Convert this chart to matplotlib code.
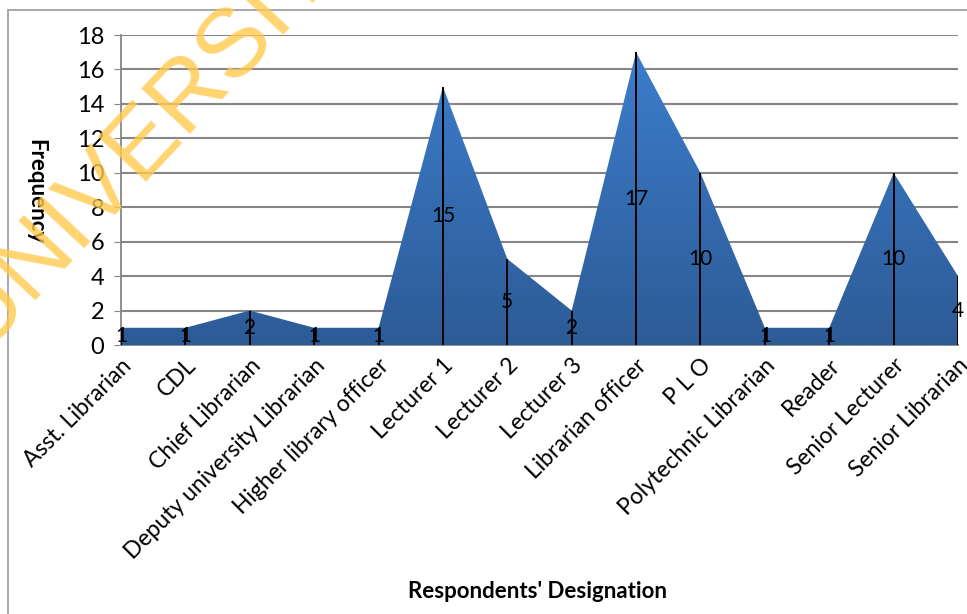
import matplotlib.pyplot as plt
import numpy as np
from matplotlib.patches import Rectangle
from matplotlib.colors import LinearSegmentedColormap

designations = ['Asst. Librarian', 'CDL', 'Chief Librarian', 'Deputy university Librarian',
                'Higher library officer', 'Lecturer 1', 'Lecturer 2', 'Lecturer 3',
                'Librarian officer', 'P L O', 'Polytechnic Librarian', 'Reader',
                'Senior Lecturer', 'Senior Librarian']
frequency = [1, 1, 2, 1, 1, 15, 5, 2, 17, 10, 1, 1, 10, 4]
y_ticks = [0, 2, 4, 6, 8, 10, 12, 14, 16, 18]

plt.rcParams['font.family'] = ['Lato', 'DejaVu Sans']

W, H = 967, 614
fig = plt.figure(figsize=(W / 100, H / 100), dpi=100)
ax = fig.add_axes([121 / W, 1 - 345 / H, (958 - 121) / W, (345 - 35) / H])

x = np.arange(len(designations))
ax.set_xlim(0, len(designations) - 1)
ax.set_ylim(0, 18)

# area with vertical gradient fill (darker at the bottom)
poly = ax.fill_between(x, frequency, 0, color='none', lw=0, zorder=2)
grad = np.linspace(0, 1, 256).reshape(-1, 1)
cmap = LinearSegmentedColormap.from_list('blu', ['#2D5B96', '#3D7FCF'])
img = ax.imshow(grad, cmap=cmap, aspect='auto', extent=[0, len(designations) - 1, 0, 18],
                origin='lower', zorder=2)
img.set_clip_path(poly.get_paths()[0], transform=ax.transData)

# drop lines and value labels
ax.vlines(x, 0, frequency, color='black', lw=1.4, zorder=3)
for xi, v in zip(x, frequency):
    ax.text(xi, v / 2, str(v), ha='center', va='center', fontsize=15, zorder=4, clip_on=False)

ax.set_yticks(y_ticks)
ax.set_xticks(x)
ax.set_xticklabels(designations, rotation=45, ha='right', rotation_mode='anchor', fontsize=16.5)
ax.tick_params(axis='y', length=5, color='#868686', labelsize=17, pad=7)
ax.tick_params(axis='x', length=0, pad=7)
ax.grid(axis='y', color='#868686', lw=1.5, zorder=0)
for s in ['top', 'right']:
    ax.spines[s].set_visible(False)
for s in ['left', 'bottom']:
    ax.spines[s].set_color('#868686')
    ax.spines[s].set_linewidth(1.3)
    ax.spines[s].set_zorder(1)

fig.text(538 / W, 1 - 592 / H, "Respondents' Designation", ha='center', va='center',
         fontsize=16, fontweight='bold')
fig.text(36 / W, 1 - 192 / H, 'Frequency', ha='center', va='center',
         rotation=-90, fontsize=16, fontweight='bold')

# chart frame
fig.add_artist(Rectangle((8 / W, -0.1), 1.1, 1 - 10 / H + 0.1, transform=fig.transFigure,
                         fill=False, ec='#9a9a9a', lw=1.2))

# watermark
fig.text(-19 / W, 1 - 351 / H, 'UNIVERSITY', rotation=47, rotation_mode='anchor',
         ha='left', va='baseline', fontsize=70, family='Liberation Sans',
         color='#FFC94D', alpha=0.8, zorder=10)

fig.savefig('out.png', dpi=100)
